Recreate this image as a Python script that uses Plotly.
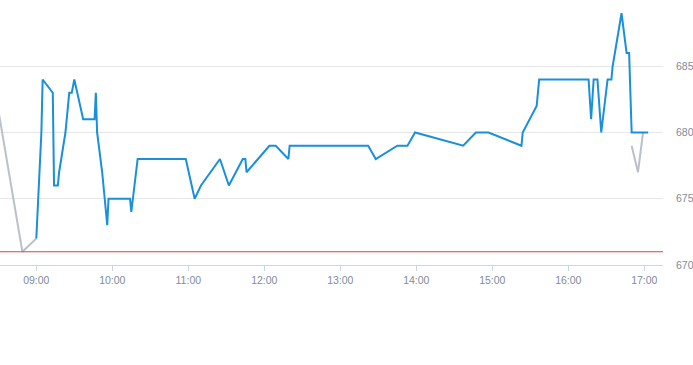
import plotly.graph_objects as go

DAY = "2024-01-02 "

pre_times = ["08:30", "08:49", "09:00"]
pre_values = [681.7, 671, 672]

main_times = ["09:00", "09:04", "09:05", "09:13", "09:14", "09:17", "09:18", "09:23", "09:26", "09:28",
              "09:30", "09:37", "09:46", "09:47", "09:48", "09:52", "09:56", "09:57", "10:14", "10:15",
              "10:20", "10:58", "11:05", "11:10", "11:25", "11:32", "11:43", "11:45", "11:46", "12:04",
              "12:09", "12:19", "12:20", "13:22", "13:28", "13:45", "13:53", "13:59", "14:37", "14:47",
              "14:57", "15:23", "15:24", "15:35", "15:37", "16:16", "16:18", "16:20", "16:23", "16:26",
              "16:31", "16:34", "16:35", "16:42", "16:46", "16:48", "16:50", "17:03"]
main_values = [672, 680, 684, 683, 676, 676, 677, 680, 683, 683,
               684, 681, 681, 683, 680, 677, 673, 675, 675, 674,
               678, 678, 675, 676, 678, 676, 678, 678, 677, 679,
               679, 678, 679, 679, 678, 679, 679, 680, 679, 680,
               680, 679, 680, 682, 684, 684, 681, 684, 684, 680,
               684, 684, 685, 689, 686, 686, 680, 680]

post_times = ["16:50", "16:55", "16:59"]
post_values = [679, 677, 680]

ref_value = 671
y_ticks = [670, 675, 680, 685]

fig = go.Figure()
fig.add_trace(go.Scatter(x=[DAY + t for t in pre_times], y=pre_values, mode="lines",
                         line=dict(color="#b9c2ca", width=2), hoverinfo="skip"))
fig.add_trace(go.Scatter(x=[DAY + t for t in post_times], y=post_values, mode="lines",
                         line=dict(color="#b9c2ca", width=2), hoverinfo="skip"))
fig.add_trace(go.Scatter(x=[DAY + t for t in main_times], y=main_values, mode="lines",
                         line=dict(color="#1a8fdb", width=2)))

fig.add_shape(type="line", xref="paper", x0=0, x1=1, yref="y", y0=ref_value, y1=ref_value,
              line=dict(color="#e0403c", width=1))

fig.update_layout(
    width=693, height=365,
    margin=dict(l=0, r=30, t=0, b=100),
    paper_bgcolor="white", plot_bgcolor="white",
    showlegend=False,
    font=dict(family="Liberation Sans, Arial, sans-serif", size=10.5, color="#7f8c99"),
    xaxis=dict(
        type="date",
        range=[DAY + "08:31:20", DAY + "17:14:45"],
        tickformat="%H:%M", dtick=3600000, tick0=DAY + "09:00",
        showgrid=False, showline=True, linecolor="#ccd6e0", linewidth=1,
        ticks="outside", ticklen=5, tickcolor="#ccd6e0", tickwidth=1,
        zeroline=False,
    ),
    yaxis=dict(
        range=[670, 690], side="right", tickvals=y_ticks,
        showgrid=True, gridcolor="#e6e6e6", gridwidth=1,
        showline=False, zeroline=False, ticks="", ticklabelstandoff=12,
    ),
)

fig.write_html("out.html")
